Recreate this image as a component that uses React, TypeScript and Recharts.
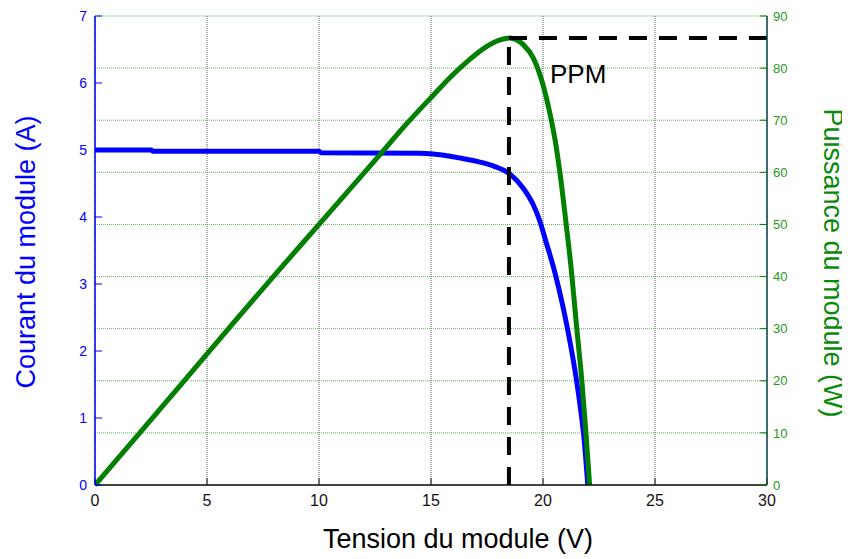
import { LineChart, Line, XAxis, YAxis, CartesianGrid, ReferenceLine } from "recharts";

// Current curve I(V)
const currentVoltage = [0, 2.5, 2.6, 10, 10.1, 14.5, 15.5, 16.3, 17.19, 17.8, 18.53, 19.12, 19.57, 19.87, 20.09, 20.54, 20.88, 21.17, 21.47, 21.65, 21.83, 22.0];
const currentValues = [5.0, 5.0, 4.98, 4.98, 4.96, 4.95, 4.925, 4.88, 4.82, 4.76, 4.64, 4.43, 4.18, 3.93, 3.68, 3.16, 2.68, 2.2, 1.62, 1.2, 0.7, 0];

// Power curve P(V)
const powerVoltage = [0, 2, 4, 6, 8, 10, 12.8, 13.7, 15.1, 15.85, 16.6, 17.33, 18.08, 18.5, 19.12, 19.57, 20.0, 20.3, 20.54, 20.76, 21.03, 21.28, 21.5, 21.73, 21.92, 22.08];
const powerValues = [0, 10, 20.1, 30.2, 40.2, 50, 63.8, 68.3, 74.8, 78.2, 81.2, 83.7, 85.4, 85.8, 84.5, 81.9, 76.8, 71.5, 66.2, 59.8, 50.2, 40.6, 30.4, 20.2, 9.9, 0];

const voltageTicks = [0, 5, 10, 15, 20, 25, 30];
const currentTicks = [0, 1, 2, 3, 4, 5, 6, 7];
const powerTicks = [0, 10, 20, 30, 40, 50, 60, 70, 80, 90];

// maximum power point
const ppmVoltage = 18.48;
const ppmPower = 85.8;

const currentData = currentVoltage.map((v, i) => ({ v, i: currentValues[i] }));
const powerData = powerVoltage.map((v, i) => ({ v, p: powerValues[i] }));

const FONT = "'Liberation Sans', Arial, sans-serif";
const BLUE = "#0000ff";
const GREEN = "#007f00";
const GREEN_TXT = "#1e9a1e";

export default function App() {
  return (
    <div style={{ width: 842, height: 551, fontFamily: FONT }}>
      <LineChart width={842} height={551} margin={{ top: 8, right: 0, left: 0, bottom: 0 }}>
        <CartesianGrid xAxisId="x" yAxisId="i" horizontal={false} stroke="#555" strokeDasharray="1 1" />
        <CartesianGrid xAxisId="x" yAxisId="p" vertical={false} stroke="#5cb05c" strokeDasharray="1 1" />
        <XAxis
          xAxisId="x"
          type="number"
          dataKey="v"
          domain={[0, 30]}
          ticks={voltageTicks}
          allowDataOverflow
          height={74}
          axisLine={{ stroke: "#111", strokeWidth: 1.5 }}
          tickLine={{ stroke: "#111" }}
          tickSize={-7}
          tickMargin={17}
          tick={{ fill: "#111", fontSize: 16, fontFamily: FONT }}
        />
        <XAxis
          xAxisId="top"
          orientation="top"
          type="number"
          domain={[0, 30]}
          ticks={voltageTicks}
          height={0}
          tick={false}
          tickLine={false}
          axisLine={{ stroke: "#0b3d0b", strokeWidth: 1.5 }}
        />
        <YAxis
          yAxisId="i"
          type="number"
          domain={[0, 7]}
          ticks={currentTicks}
          width={87}
          axisLine={{ stroke: BLUE, strokeWidth: 1.5 }}
          tickLine={{ stroke: BLUE }}
          tickSize={-7}
          tickMargin={15}
          tick={{ fill: BLUE, fontSize: 14, fontFamily: FONT }}
        />
        <YAxis
          yAxisId="iRight"
          orientation="right"
          type="number"
          domain={[0, 7]}
          ticks={currentTicks}
          width={0}
          axisLine={false}
          tickLine={{ stroke: BLUE }}
          tickSize={-7}
          tick={false}
        />
        <YAxis
          yAxisId="p"
          orientation="right"
          type="number"
          domain={[0, 90]}
          ticks={powerTicks}
          width={83}
          axisLine={{ stroke: "#0d4848", strokeWidth: 1.5 }}
          tickLine={{ stroke: GREEN }}
          tickSize={-7}
          tickMargin={13}
          tick={{ fill: GREEN_TXT, fontSize: 13, fontFamily: FONT, textAnchor: "start" }}
        />
        <Line
          xAxisId="x"
          yAxisId="i"
          data={currentData}
          dataKey="i"
          type="monotone"
          stroke={BLUE}
          strokeWidth={5}
          dot={false}
          isAnimationActive={false}
        />
        <Line
          xAxisId="x"
          yAxisId="p"
          data={powerData}
          dataKey="p"
          type="monotone"
          stroke={GREEN}
          strokeWidth={5}
          dot={false}
          isAnimationActive={false}
        />
        <ReferenceLine
          xAxisId="x"
          yAxisId="p"
          segment={[{ x: ppmVoltage, y: 0 }, { x: ppmVoltage, y: ppmPower }]}
          stroke="#000"
          strokeWidth={4}
          strokeDasharray="18 12"
          ifOverflow="visible"
        />
        <ReferenceLine
          xAxisId="x"
          yAxisId="p"
          segment={[{ x: ppmVoltage, y: ppmPower }, { x: 30, y: ppmPower }]}
          stroke="#000"
          strokeWidth={4}
          strokeDasharray="18 12"
          ifOverflow="visible"
        />
        <text x={542} y={75} fontSize={26} fontFamily={FONT} fill="#000">PPM</text>
        <text x={450} y={540} fontSize={27} fontFamily={FONT} fill="#000" textAnchor="middle">
          Tension du module (V)
        </text>
        <text
          x={27}
          y={244}
          fontSize={27}
          fontFamily={FONT}
          fill={BLUE}
          textAnchor="middle"
          transform="rotate(-90 27 244)"
        >
          Courant du module (A)
        </text>
        <text
          x={816}
          y={255}
          fontSize={27}
          fontFamily={FONT}
          fill="#0a8a0a"
          textAnchor="middle"
          transform="rotate(90 816 255)"
        >
          Puissance du module (W)
        </text>
      </LineChart>
    </div>
  );
}
